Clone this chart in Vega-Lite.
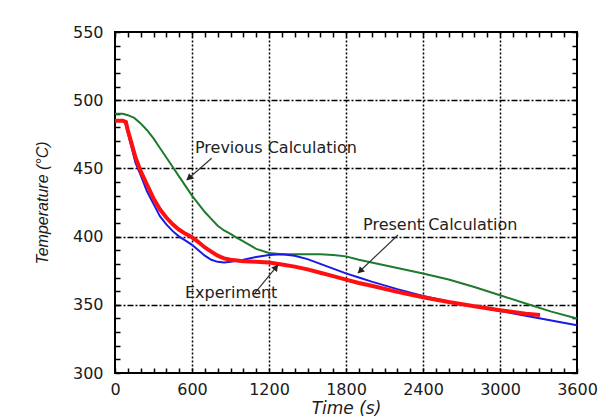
{
  "$schema": "https://vega.github.io/schema/vega-lite/v6.json",
  "width": 462,
  "height": 341,
  "autosize": "none",
  "padding": {"left": 115, "top": 32, "right": 22, "bottom": 44},
  "background": "white",
  "config": {
    "view": {"stroke": "black", "strokeWidth": 2},
    "axis": {"labelOverlap": false, "labelFlush": false}
  },
  "datasets": {
    "curves": [
      {"series": "Previous", "t": 0, "T": 490},
      {"series": "Previous", "t": 60, "T": 490},
      {"series": "Previous", "t": 100, "T": 489},
      {"series": "Previous", "t": 150, "T": 487},
      {"series": "Previous", "t": 200, "T": 483},
      {"series": "Previous", "t": 250, "T": 478},
      {"series": "Previous", "t": 300, "T": 472},
      {"series": "Previous", "t": 350, "T": 465},
      {"series": "Previous", "t": 400, "T": 458},
      {"series": "Previous", "t": 450, "T": 451},
      {"series": "Previous", "t": 500, "T": 444},
      {"series": "Previous", "t": 550, "T": 437},
      {"series": "Previous", "t": 600, "T": 430},
      {"series": "Previous", "t": 650, "T": 424},
      {"series": "Previous", "t": 700, "T": 418},
      {"series": "Previous", "t": 750, "T": 413},
      {"series": "Previous", "t": 800, "T": 408},
      {"series": "Previous", "t": 850, "T": 404.5},
      {"series": "Previous", "t": 900, "T": 402},
      {"series": "Previous", "t": 950, "T": 399},
      {"series": "Previous", "t": 1000, "T": 396.5},
      {"series": "Previous", "t": 1100, "T": 391},
      {"series": "Previous", "t": 1200, "T": 388},
      {"series": "Previous", "t": 1300, "T": 387},
      {"series": "Previous", "t": 1400, "T": 387},
      {"series": "Previous", "t": 1500, "T": 387},
      {"series": "Previous", "t": 1600, "T": 387},
      {"series": "Previous", "t": 1700, "T": 386.5},
      {"series": "Previous", "t": 1800, "T": 385.5},
      {"series": "Previous", "t": 1900, "T": 383},
      {"series": "Previous", "t": 2000, "T": 381},
      {"series": "Previous", "t": 2200, "T": 377},
      {"series": "Previous", "t": 2400, "T": 373},
      {"series": "Previous", "t": 2600, "T": 368.5},
      {"series": "Previous", "t": 2800, "T": 363},
      {"series": "Previous", "t": 3000, "T": 357},
      {"series": "Previous", "t": 3200, "T": 351},
      {"series": "Previous", "t": 3400, "T": 345},
      {"series": "Previous", "t": 3600, "T": 340},
      {"series": "Present", "t": 0, "T": 485},
      {"series": "Present", "t": 60, "T": 485},
      {"series": "Present", "t": 80, "T": 483},
      {"series": "Present", "t": 100, "T": 476},
      {"series": "Present", "t": 130, "T": 465},
      {"series": "Present", "t": 160, "T": 454},
      {"series": "Present", "t": 200, "T": 445},
      {"series": "Present", "t": 250, "T": 433},
      {"series": "Present", "t": 300, "T": 424},
      {"series": "Present", "t": 350, "T": 415},
      {"series": "Present", "t": 400, "T": 409},
      {"series": "Present", "t": 450, "T": 404},
      {"series": "Present", "t": 500, "T": 400},
      {"series": "Present", "t": 550, "T": 397},
      {"series": "Present", "t": 600, "T": 394},
      {"series": "Present", "t": 650, "T": 390},
      {"series": "Present", "t": 700, "T": 386},
      {"series": "Present", "t": 750, "T": 383},
      {"series": "Present", "t": 800, "T": 381.5},
      {"series": "Present", "t": 850, "T": 381},
      {"series": "Present", "t": 900, "T": 381.5},
      {"series": "Present", "t": 1000, "T": 383},
      {"series": "Present", "t": 1100, "T": 385},
      {"series": "Present", "t": 1200, "T": 386.5},
      {"series": "Present", "t": 1300, "T": 387},
      {"series": "Present", "t": 1400, "T": 386},
      {"series": "Present", "t": 1500, "T": 383.5},
      {"series": "Present", "t": 1600, "T": 380},
      {"series": "Present", "t": 1700, "T": 376.5},
      {"series": "Present", "t": 1800, "T": 373},
      {"series": "Present", "t": 1900, "T": 370},
      {"series": "Present", "t": 2000, "T": 367},
      {"series": "Present", "t": 2200, "T": 361.5},
      {"series": "Present", "t": 2400, "T": 356.5},
      {"series": "Present", "t": 2600, "T": 352.5},
      {"series": "Present", "t": 2800, "T": 349},
      {"series": "Present", "t": 3000, "T": 345.5},
      {"series": "Present", "t": 3200, "T": 342},
      {"series": "Present", "t": 3400, "T": 338.5},
      {"series": "Present", "t": 3600, "T": 335},
      {"series": "Experiment", "t": 0, "T": 485},
      {"series": "Experiment", "t": 60, "T": 485},
      {"series": "Experiment", "t": 85, "T": 484},
      {"series": "Experiment", "t": 100, "T": 478},
      {"series": "Experiment", "t": 130, "T": 468},
      {"series": "Experiment", "t": 160, "T": 458},
      {"series": "Experiment", "t": 200, "T": 448},
      {"series": "Experiment", "t": 250, "T": 438},
      {"series": "Experiment", "t": 300, "T": 428},
      {"series": "Experiment", "t": 350, "T": 420},
      {"series": "Experiment", "t": 400, "T": 414},
      {"series": "Experiment", "t": 450, "T": 409},
      {"series": "Experiment", "t": 500, "T": 405},
      {"series": "Experiment", "t": 550, "T": 402},
      {"series": "Experiment", "t": 600, "T": 399.5},
      {"series": "Experiment", "t": 650, "T": 396},
      {"series": "Experiment", "t": 700, "T": 392},
      {"series": "Experiment", "t": 750, "T": 389},
      {"series": "Experiment", "t": 800, "T": 386},
      {"series": "Experiment", "t": 850, "T": 384},
      {"series": "Experiment", "t": 900, "T": 383},
      {"series": "Experiment", "t": 1000, "T": 382},
      {"series": "Experiment", "t": 1100, "T": 381.5},
      {"series": "Experiment", "t": 1200, "T": 381},
      {"series": "Experiment", "t": 1300, "T": 379.5},
      {"series": "Experiment", "t": 1400, "T": 378},
      {"series": "Experiment", "t": 1500, "T": 376},
      {"series": "Experiment", "t": 1600, "T": 373.5},
      {"series": "Experiment", "t": 1700, "T": 371},
      {"series": "Experiment", "t": 1800, "T": 368.5},
      {"series": "Experiment", "t": 1900, "T": 366},
      {"series": "Experiment", "t": 2000, "T": 364},
      {"series": "Experiment", "t": 2200, "T": 359.5},
      {"series": "Experiment", "t": 2400, "T": 355.5},
      {"series": "Experiment", "t": 2600, "T": 352},
      {"series": "Experiment", "t": 2800, "T": 349},
      {"series": "Experiment", "t": 3000, "T": 346},
      {"series": "Experiment", "t": 3200, "T": 343.5},
      {"series": "Experiment", "t": 3312, "T": 342.5}
    ],
    "labels": [
      {"label": "Previous Calculation", "t": 623, "T": 465.3},
      {"label": "Present Calculation", "t": 1933, "T": 408.5},
      {"label": "Experiment", "t": 545, "T": 359}
    ],
    "arrows": [
      {"arrow": "Previous", "x0": 753, "y0": 457.4, "x1": 559, "y1": 441.5, "hx": 582.5, "hy": 443.4},
      {"arrow": "Present", "x0": 2205, "y0": 401.2, "x1": 1893, "y1": 373.3, "hx": 1915.6, "hy": 375.3},
      {"arrow": "Experiment", "x0": 1091, "y0": 358.7, "x1": 1270, "y1": 379.2, "hx": 1250, "hy": 376.9}
    ]
  },
  "layer": [
    {
      "data": {"name": "curves"},
      "transform": [{"filter": "datum.series === 'Previous'"}],
      "mark": {"type": "line", "color": "#1f7a2e", "strokeWidth": 2},
      "encoding": {
        "x": {
          "field": "t", "type": "quantitative",
          "scale": {"domain": [0, 3600], "nice": false, "zero": false},
          "axis": {
            "orient": "bottom",
            "values": [0,100,200,300,400,500,600,700,800,900,1000,1100,1200,1300,1400,1500,1600,1700,1800,1900,2000,2100,2200,2300,2400,2500,2600,2700,2800,2900,3000,3100,3200,3300,3400,3500,3600],
            "format": "d",
            "labelExpr": "datum.value % 600 === 0 ? datum.label : ''",
            "domain": false,
            "tickSize": -5, "tickColor": "black", "tickWidth": 1.5,
            "grid": true, "gridColor": "black", "gridWidth": 1.5, "gridDash": [2, 2],
            "gridOpacity": {"condition": {"test": "datum.value % 600 === 0 && datum.value > 0 && datum.value < 3600", "value": 1}, "value": 0},
            "labelFont": "DejaVu Sans", "labelFontSize": 16, "labelColor": "#1a1a1a", "labelPadding": 13,
            "title": "Time (s)", "titleFont": "DejaVu Sans", "titleFontStyle": "italic", "titleFontWeight": "normal",
            "titleFontSize": 17, "titleColor": "#1a1a1a", "titlePadding": 3
          }
        },
        "y": {
          "field": "T", "type": "quantitative",
          "scale": {"domain": [300, 550], "nice": false, "zero": false},
          "axis": {
            "orient": "left",
            "values": [300,310,320,330,340,350,360,370,380,390,400,410,420,430,440,450,460,470,480,490,500,510,520,530,540,550],
            "labelExpr": "datum.value % 50 === 0 ? datum.label : ''",
            "domain": false,
            "tickSize": -5, "tickColor": "black", "tickWidth": 1.5,
            "grid": true, "gridColor": "black", "gridWidth": 1.5, "gridDash": [6, 2, 2, 2],
            "gridOpacity": {"condition": {"test": "datum.value % 50 === 0 && datum.value > 300 && datum.value < 550", "value": 1}, "value": 0},
            "labelFont": "DejaVu Sans", "labelFontSize": 16, "labelColor": "#1a1a1a", "labelPadding": 17,
            "title": "Temperature (°C)", "titleFont": "Liberation Sans", "titleFontStyle": "italic", "titleFontWeight": "normal",
            "titleFontSize": 16, "titleColor": "#1a1a1a", "titlePadding": 22
          }
        }
      }
    },
    {
      "data": {"name": "curves"},
      "transform": [{"filter": "datum.series === 'Present'"}],
      "mark": {"type": "line", "color": "#1a1ae6", "strokeWidth": 2},
      "encoding": {
        "x": {"field": "t", "type": "quantitative", "axis": null},
        "y": {"field": "T", "type": "quantitative", "axis": null}
      }
    },
    {
      "data": {"name": "curves"},
      "transform": [{"filter": "datum.series === 'Experiment'"}],
      "mark": {"type": "line", "color": "#ff1010", "strokeWidth": 4},
      "encoding": {
        "x": {"field": "t", "type": "quantitative", "axis": null},
        "y": {"field": "T", "type": "quantitative", "axis": null}
      }
    },
    {
      "data": {"name": "arrows"},
      "mark": {"type": "rule", "color": "#333333", "strokeWidth": 1.2},
      "encoding": {
        "x": {"field": "x0", "type": "quantitative", "axis": null},
        "y": {"field": "y0", "type": "quantitative", "axis": null},
        "x2": {"field": "x1"},
        "y2": {"field": "y1"}
      }
    },
    {
      "data": {"name": "arrows"},
      "transform": [{"filter": "datum.arrow === 'Previous'"}],
      "mark": {"type": "point", "shape": "triangle", "filled": true, "color": "#222222", "opacity": 1, "size": 55, "angle": 229},
      "encoding": {
        "x": {"field": "hx", "type": "quantitative", "axis": null},
        "y": {"field": "hy", "type": "quantitative", "axis": null}
      }
    },
    {
      "data": {"name": "arrows"},
      "transform": [{"filter": "datum.arrow === 'Present'"}],
      "mark": {"type": "point", "shape": "triangle", "filled": true, "color": "#222222", "opacity": 1, "size": 55, "angle": 226},
      "encoding": {
        "x": {"field": "hx", "type": "quantitative", "axis": null},
        "y": {"field": "hy", "type": "quantitative", "axis": null}
      }
    },
    {
      "data": {"name": "arrows"},
      "transform": [{"filter": "datum.arrow === 'Experiment'"}],
      "mark": {"type": "point", "shape": "triangle", "filled": true, "color": "#222222", "opacity": 1, "size": 55, "angle": 39},
      "encoding": {
        "x": {"field": "hx", "type": "quantitative", "axis": null},
        "y": {"field": "hy", "type": "quantitative", "axis": null}
      }
    },
    {
      "data": {"name": "labels"},
      "mark": {"type": "text", "align": "left", "baseline": "middle", "font": "DejaVu Sans", "fontSize": 16, "color": "#222222"},
      "encoding": {
        "x": {
          "field": "t", "type": "quantitative",
          "axis": {
            "orient": "top",
            "values": [0,100,200,300,400,500,600,700,800,900,1000,1100,1200,1300,1400,1500,1600,1700,1800,1900,2000,2100,2200,2300,2400,2500,2600,2700,2800,2900,3000,3100,3200,3300,3400,3500,3600],
            "labels": false, "domain": false, "grid": false, "title": null,
            "tickSize": -5, "tickColor": "black", "tickWidth": 1.5
          }
        },
        "y": {
          "field": "T", "type": "quantitative",
          "axis": {
            "orient": "right",
            "values": [300,310,320,330,340,350,360,370,380,390,400,410,420,430,440,450,460,470,480,490,500,510,520,530,540,550],
            "labels": false, "domain": false, "grid": false, "title": null,
            "tickSize": -5, "tickColor": "black", "tickWidth": 1.5
          }
        },
        "text": {"field": "label", "type": "nominal"}
      }
    }
  ],
  "resolve": {"axis": {"x": "independent", "y": "independent"}}
}
